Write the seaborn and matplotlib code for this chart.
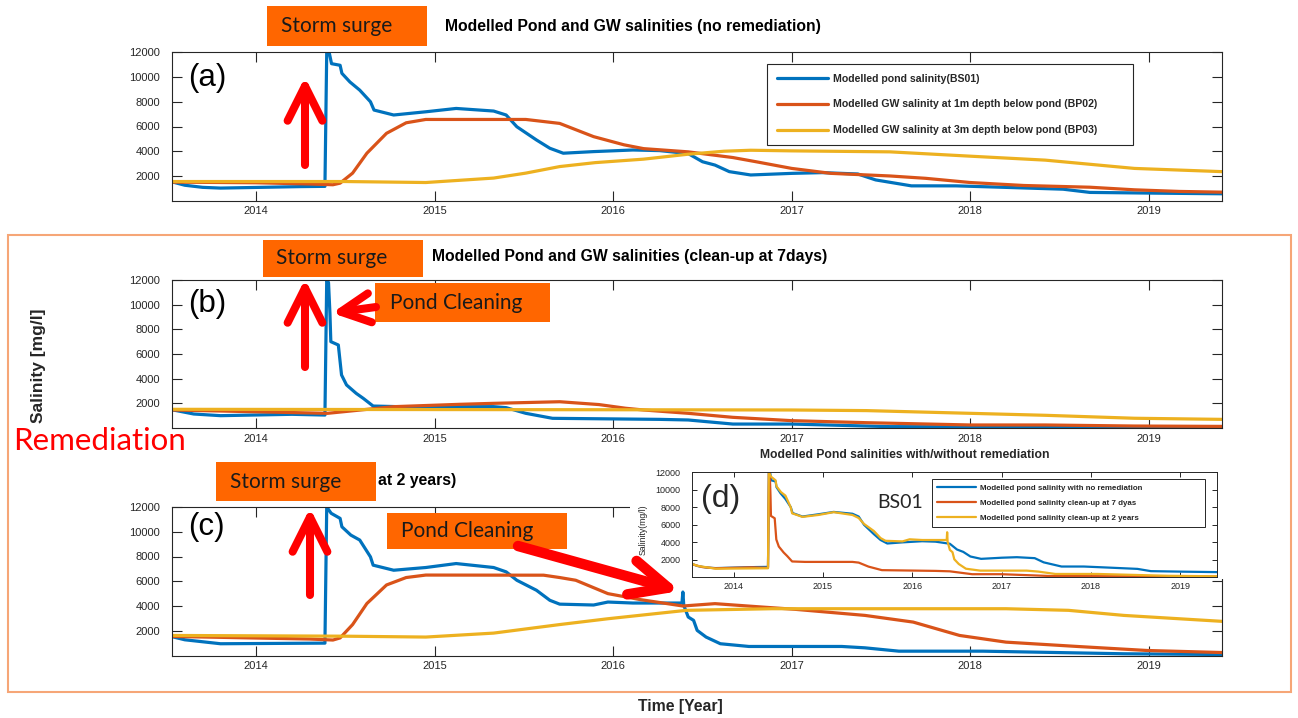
import matplotlib
matplotlib.use("Agg")
import matplotlib.pyplot as plt
import seaborn as sns
from matplotlib.patches import Rectangle, FancyArrowPatch, ArrowStyle

# ---------------- data: time in decimal years, salinity in mg/l ----------------
YEARS = [2014, 2015, 2016, 2017, 2018, 2019]
YEAR_LABELS = ["2014", "2015", "2016", "2017", "2018", "2019"]
SAL_TICKS = [2000, 4000, 6000, 8000, 10000, 12000]

# (a) no remediation
a_pond_t = [2013.535, 2013.60, 2013.70, 2013.80, 2013.95, 2014.10, 2014.25, 2014.385,
            2014.395, 2014.41, 2014.422, 2014.47, 2014.48, 2014.525, 2014.58, 2014.64,
            2014.66, 2014.77, 2014.95, 2015.12, 2015.33, 2015.40, 2015.46, 2015.57,
            2015.645, 2015.72, 2015.89, 2016.11, 2016.26, 2016.42, 2016.50, 2016.57,
            2016.65, 2016.77, 2017.00, 2017.17, 2017.37, 2017.47, 2017.67, 2017.92,
            2018.17, 2018.52, 2018.67, 2019.04, 2019.41]
a_pond_v = [1500, 1250, 1080, 1020, 1060, 1100, 1140, 1160,
            12000, 11900, 11080, 10950, 10300, 9600, 8940, 8000,
            7330, 6930, 7190, 7460, 7250, 6930, 5980, 4910,
            4240, 3840, 3970, 4100, 4050, 3810, 3150, 2880,
            2350, 2080, 2210, 2270, 2160, 1680, 1200, 1200,
            1090, 930, 670, 610, 560]
a_gw1_t = [2013.535, 2014.00, 2014.30, 2014.43, 2014.47, 2014.54, 2014.62, 2014.73,
           2014.84, 2014.95, 2015.51, 2015.70, 2015.89, 2016.06, 2016.17, 2016.42,
           2016.67, 2016.80, 2017.00, 2017.22, 2017.55, 2017.75, 2018.00, 2018.30,
           2018.67, 2018.92, 2019.17, 2019.41]
a_gw1_v = [1500, 1450, 1350, 1290, 1420, 2230, 3840, 5450,
           6300, 6570, 6570, 6250, 5180, 4520, 4210, 3950,
           3490, 3150, 2610, 2210, 2000, 1810, 1470, 1230,
           1090, 880, 750, 690]
a_gw3_t = [2013.535, 2014.50, 2014.95, 2015.33, 2015.51, 2015.70, 2015.90, 2016.17,
           2016.42, 2016.62, 2016.77, 2017.00, 2017.55, 2018.00, 2018.42, 2018.92, 2019.41]
a_gw3_v = [1550, 1550, 1470, 1830, 2230, 2760, 3080, 3360,
           3760, 4000, 4080, 4030, 3950, 3600, 3280, 2610, 2350]

# (b) clean-up at 7 days
b_pond_t = [2013.535, 2013.65, 2013.80, 2014.20, 2014.385, 2014.395, 2014.405, 2014.413,
            2014.418, 2014.46, 2014.478, 2014.506, 2014.56, 2014.60, 2014.655, 2014.80,
            2015.33, 2015.40, 2015.51, 2015.66, 2016.26, 2016.42, 2016.67, 2017.00,
            2017.55, 2019.41]
b_pond_v = [1460, 1135, 1000, 1110, 1050, 12000, 11800, 9300,
            7000, 6730, 4300, 3490, 2810, 2400, 1780, 1730,
            1730, 1650, 1190, 785, 700, 650, 320, 320,
            110, 60]
b_gw1_t = [2013.535, 2014.40, 2014.77, 2015.14, 2015.33, 2015.70, 2015.92, 2016.07,
           2016.17, 2016.42, 2016.67, 2017.00, 2017.42, 2018.00, 2018.42, 2018.92, 2019.41]
b_gw1_v = [1460, 1190, 1730, 1920, 2000, 2130, 1900, 1600,
           1460, 1190, 865, 595, 430, 245, 245, 160, 130]
b_gw3_t = [2013.535, 2016.00, 2017.00, 2017.42, 2018.00, 2018.42, 2018.92, 2019.41]
b_gw3_v = [1515, 1480, 1460, 1410, 1190, 1030, 790, 700]

# (c) clean-up at 2 years
c_pond_t = [2013.535, 2013.60, 2013.80, 2014.385, 2014.395, 2014.42, 2014.47, 2014.48,
            2014.53, 2014.58, 2014.64, 2014.655, 2014.77, 2014.95, 2015.12, 2015.33,
            2015.40, 2015.46, 2015.57, 2015.645, 2015.70, 2015.89, 2015.97, 2016.11,
            2016.385, 2016.39, 2016.395, 2016.42, 2016.45, 2016.47, 2016.52, 2016.60,
            2016.76, 2017.28, 2017.41, 2017.60, 2018.07, 2018.86, 2019.41]
c_pond_v = [1500, 1270, 950, 1000, 12000, 11490, 11080, 10400,
            9730, 9330, 7970, 7300, 6890, 7110, 7430, 7110,
            6760, 6080, 5270, 4460, 4150, 4080, 4320, 4240,
            4240, 5130, 4060, 3110, 2840, 2030, 1490, 950,
            730, 730, 620, 350, 350, 140, 80]
c_gw1_t = [2013.535, 2014.30, 2014.43, 2014.47, 2014.54, 2014.62, 2014.73, 2014.84,
           2014.95, 2015.61, 2015.70, 2015.79, 2015.97, 2016.15, 2016.39, 2016.57,
           2016.83, 2017.02, 2017.41, 2017.68, 2017.94, 2018.20, 2018.60, 2018.99, 2019.41]
c_gw1_v = [1540, 1330, 1250, 1420, 2500, 4200, 5700, 6300,
           6500, 6490, 6300, 6080, 5000, 4520, 4000, 4190,
           3920, 3730, 3240, 2700, 1620, 1080, 730, 405, 240]
c_gw3_t = [2013.535, 2014.50, 2014.95, 2015.33, 2015.70, 2015.97, 2016.41, 2016.89,
           2017.55, 2018.20, 2018.55, 2018.86, 2019.41]
c_gw3_v = [1620, 1560, 1490, 1810, 2500, 2970, 3650, 3780,
           3780, 3780, 3650, 3240, 2760]

# ---------------- style ----------------
sns.set_style("white")
plt.rcParams["font.family"] = ["Liberation Sans", "DejaVu Sans"]

C_BLUE, C_RED, C_YEL = "#0072BD", "#D95319", "#EDB120"
AX_COL = "#262626"
BOX_ORANGE = "#FF6600"
ARROW_RED = "#FF0000"
X_RANGE = (2013.53, 2019.41)

W, H = 1298, 718
fig = plt.figure(figsize=(W / 100, H / 100), dpi=100)


def fx(px):
    return px / W


def fy(py):
    return 1 - py / H


def axes_px(x0, y0, x1, y1, z=0):
    return fig.add_axes([fx(x0), fy(y1), (x1 - x0) / W, (y1 - y0) / H], zorder=z)


def style_axes(ax, tick_len, size, pad_x, pad_y, lw=0.8):
    ax.set_xlim(*X_RANGE)
    ax.set_ylim(0, 12000)
    ax.set_xticks(YEARS)
    ax.set_xticklabels(YEAR_LABELS)
    ax.set_yticks(SAL_TICKS)
    ax.tick_params(direction="in", length=tick_len, width=lw, color=AX_COL,
                   labelcolor=AX_COL, labelsize=size, top=True, right=True,
                   bottom=True, left=True)
    ax.tick_params(axis="x", pad=pad_x)
    ax.tick_params(axis="y", pad=pad_y)
    for s in ax.spines.values():
        s.set_visible(True)
        s.set_color(AX_COL)
        s.set_linewidth(lw)
    ax.set_xlabel("")
    ax.set_ylabel("")
    ax.grid(False)


def draw(ax, t, v, color, lw, label=None):
    sns.lineplot(x=t, y=v, ax=ax, color=color, linewidth=lw, estimator=None,
                 sort=False, label=label, legend=False)


LW = 2.3
ax_a = axes_px(172.3, 52.3, 1222, 200.7)
ax_b = axes_px(172.3, 280, 1222, 428)
ax_c = axes_px(172.3, 507, 1222, 655.5)

draw(ax_a, a_pond_t, a_pond_v, C_BLUE, LW, "Modelled pond salinity(BS01)")
draw(ax_a, a_gw1_t, a_gw1_v, C_RED, LW, "Modelled GW salinity at 1m depth below pond (BP02)")
draw(ax_a, a_gw3_t, a_gw3_v, C_YEL, LW, "Modelled GW salinity at 3m depth below pond (BP03)")

draw(ax_b, b_pond_t, b_pond_v, C_BLUE, LW)
draw(ax_b, b_gw1_t, b_gw1_v, C_RED, LW)
draw(ax_b, b_gw3_t, b_gw3_v, C_YEL, LW)

draw(ax_c, c_pond_t, c_pond_v, C_BLUE, LW)
draw(ax_c, c_gw1_t, c_gw1_v, C_RED, LW)
draw(ax_c, c_gw3_t, c_gw3_v, C_YEL, LW)

for ax in (ax_a, ax_b, ax_c):
    style_axes(ax, tick_len=7.5, size=8, pad_x=4, pad_y=9)

leg = ax_a.legend(loc="upper left", bbox_to_anchor=(0.5666, 0.3, 0.349, 0.6241),
                  mode="expand", borderaxespad=0, frameon=True, fancybox=False,
                  framealpha=1, edgecolor=AX_COL, handlelength=4.85, handletextpad=0.45,
                  labelspacing=1.5, borderpad=0.95,
                  prop={"family": "Liberation Sans", "weight": "bold", "size": 7.6})
leg.get_frame().set_linewidth(0.8)

# white backing behind the comparison inset
fig.patches.append(Rectangle((fx(630), fy(579)), (1226 - 630) / W, (579 - 445) / H,
                             transform=fig.transFigure, facecolor="white",
                             edgecolor="none", zorder=1))

# (d) inset: pond salinity with / without remediation
ax_d = axes_px(691.6, 472.3, 1217, 577, z=2)
LWd = 1.6
draw(ax_d, a_pond_t, a_pond_v, C_BLUE, LWd, "Modelled pond salinity with no remediation")
draw(ax_d, b_pond_t, b_pond_v, C_RED, LWd, "Modelled pond salinity clean-up at 7 dyas")
draw(ax_d, c_pond_t, c_pond_v, C_YEL, LWd, "Modelled pond salinity clean-up at 2 years")
style_axes(ax_d, tick_len=3.5, size=6.5, pad_x=3.3, pad_y=8, lw=0.7)
leg_d = ax_d.legend(loc="upper left", bbox_to_anchor=(0.4576, 0.2, 0.5196, 0.736),
                    mode="expand", borderaxespad=0, frameon=True, fancybox=False,
                    framealpha=1, edgecolor=AX_COL, handlelength=4.9, handletextpad=0.45,
                    labelspacing=0.95, borderpad=0.66,
                    prop={"family": "Liberation Sans", "weight": "bold", "size": 5.7})
leg_d.get_frame().set_linewidth(0.7)

# ---------------- titles and labels ----------------
title_kw = dict(fontsize=11.3, fontweight="bold", color="black", va="center", ha="left", zorder=3)
fig.text(fx(445), fy(26), "Modelled Pond and GW salinities (no remediation)", **title_kw)
fig.text(fx(432), fy(257), "Modelled Pond and GW salinities (clean-up at 7days)", **title_kw)
fig.text(fx(378), fy(480), "at 2 years)", **title_kw)
fig.text(fx(905), fy(455), "Modelled Pond salinities with/without remediation",
         fontsize=8.7, fontweight="bold", ha="center", va="center", zorder=3)
fig.text(fx(643), fy(530), "Salinity(mg/l)", fontsize=6.3, rotation=90,
         ha="center", va="center", color=AX_COL, zorder=3)

fig.text(fx(38), fy(366), "Salinity [mg/l]", fontsize=12.5, fontweight="bold",
         rotation=90, ha="center", va="center")
fig.text(fx(680), fy(706), "Time [Year]", fontsize=11.3, fontweight="bold",
         ha="center", va="center")

panel_kw = dict(fontsize=22.5, ha="center", va="center", color="black", zorder=4)
fig.text(fx(207), fy(78), "(a)", **panel_kw)
fig.text(fx(207), fy(304), "(b)", **panel_kw)
fig.text(fx(206), fy(527), "(c)", **panel_kw)
fig.text(fx(721), fy(499), "(d)", fontsize=23, ha="center", va="center", zorder=4)
fig.text(fx(900), fy(502), "BS01", fontsize=14, family="Lato", ha="center",
         va="center", zorder=4)

fig.text(fx(13), fy(441), "Remediation", fontsize=22.5, family="Lato",
         color="#FF0000", ha="left", va="center", zorder=4)

# remediation frame around panels (b) and (c)
fig.patches.append(Rectangle((fx(8), fy(692)), (1291 - 8) / W, (692 - 235) / H,
                             transform=fig.transFigure, fill=False,
                             edgecolor="#F6A677", linewidth=1.5, zorder=4))


def callout(x0, y0, x1, y1, text, tx):
    fig.patches.append(Rectangle((fx(x0), fy(y1)), (x1 - x0) / W, (y1 - y0) / H,
                                 transform=fig.transFigure, facecolor=BOX_ORANGE,
                                 edgecolor="none", zorder=5))
    fig.text(fx(tx), fy((y0 + y1) / 2), text, fontsize=15, family="Lato",
             color="#1a1a1a", ha="left", va="center", zorder=6)


callout(267, 6, 427, 46, "Storm surge", 281)
callout(263, 240, 423, 277, "Storm surge", 276)
callout(375, 283, 550, 322, "Pond Cleaning", 390)
callout(216, 462, 376, 501, "Storm surge", 230)
callout(387, 513, 567, 549, "Pond Cleaning", 401)


def arrow(x0, y0, x1, y1, lw, hl, hw):
    fig.patches.append(FancyArrowPatch(
        (fx(x0), fy(y0)), (fx(x1), fy(y1)), transform=fig.transFigure,
        arrowstyle=ArrowStyle("->", head_length=hl, head_width=hw),
        mutation_scale=1, linewidth=lw, color=ARROW_RED, capstyle="round",
        joinstyle="round", shrinkA=0, shrinkB=0, zorder=7))


arrow(305, 165, 305, 77, 5.8, 25, 12.5)
arrow(305, 367, 305, 279, 5.8, 25, 12.5)
arrow(376, 307, 332, 313, 5.8, 21, 10.5)
arrow(310, 595, 310, 508, 5.8, 25, 12.5)
arrow(518, 546, 680, 591, 7.5, 27, 12.5)

fig.savefig("out.png", dpi=100)
